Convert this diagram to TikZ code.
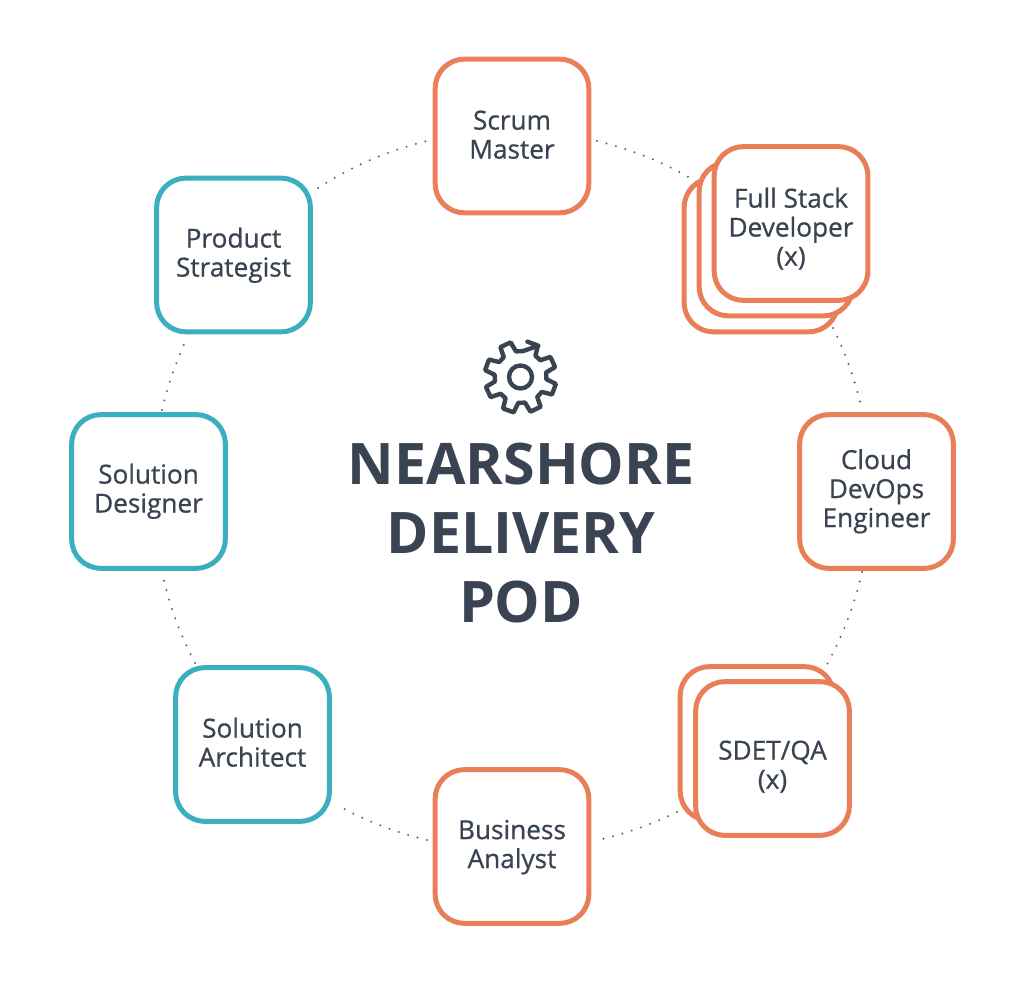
\documentclass[tikz,border=0pt]{standalone}
\usepackage{fontspec}
\usetikzlibrary{calc}
\setmainfont{Open Sans}
\newfontfamily\rolefont[FakeBold=0.7]{Open Sans}
\definecolor{podorange}{HTML}{E97F58}
\definecolor{podteal}{HTML}{3BAEBF}
\definecolor{podink}{HTML}{3A4352}
\definecolor{podgrey}{HTML}{5C6068}
\newcommand\rolelines[2]{\raisebox{#1}[0pt][0pt]{\begin{tabular}{@{}c@{}}#2\end{tabular}}}
\tikzset{
  rolebox/.style={draw, fill=white, line width=5pt, rounded corners=29pt,
    minimum width=153.6pt, minimum height=153.6pt, inner sep=0pt,
    text=podink, font=\rolefont\fontsize{26.2}{29}\selectfont},
  orangebox/.style={rolebox, draw=podorange},
  tealbox/.style={rolebox, draw=podteal},
  ringdots/.style={draw=podgrey, line width=2.2pt, line cap=round,
    dash pattern=on 0pt off 9.8pt, looseness=0.87},
  gearline/.style={draw=podink, line width=4.4pt, line join=round}
}
\begin{document}
\begin{tikzpicture}[x=1pt,y=-1pt]
\useasboundingbox (0,0) rectangle (1024,981);
% free ends of the dotted ring
\coordinate (a1) at (597,141);  \coordinate (b1) at (692,179);
\coordinate (a2) at (833,328);  \coordinate (b2) at (862,410);
\coordinate (a3) at (862,572);  \coordinate (b3) at (825,668);
\coordinate (a4) at (677,812);  \coordinate (b4) at (598,840);
\coordinate (a5) at (427,840);  \coordinate (b5) at (337,805);
\coordinate (a6) at (195,663);  \coordinate (b6) at (162,572);
\coordinate (a7) at (162,410);  \coordinate (b7) at (187,338);
\coordinate (a8) at (318,188);  \coordinate (b8) at (427,141);
\draw[ringdots] (a1) to[bend left=8.2] (b1);
\draw[ringdots] (a2) to[bend left=6.9] (b2);
\draw[ringdots] (a3) to[bend left=8.2] (b3);
\draw[ringdots] (a4) to[bend left=6.7] (b4);
\draw[ringdots] (a5) to[bend left=7.7] (b5);
\draw[ringdots] (a6) to[bend left=7.7] (b6);
\draw[ringdots] (a7) to[bend left=6.1] (b7);
\draw[ringdots] (a8) to[bend left=9.5] (b8);
% boxes
\node[orangebox] (scrum) at (512,136) {\rolelines{-8.5pt}{Scrum\\Master}};
\node[orangebox] (fsdback) at (761,255) {};
\node[orangebox] (fsdmid) at (776,239) {};
\node[orangebox] (fsd) at (791,223.5) {\rolelines{-13.5pt}{Full Stack\\Developer\\(x)}};
\node[orangebox] (cloud) at (876.5,491.5) {\rolelines{-7pt}{Cloud\\DevOps\\Engineer}};
\node[orangebox] (sdetback) at (757,743.5) {};
\node[orangebox] (sdet) at (772.5,758.5) {\rolelines{-16pt}{SDET/QA\\(x)}};
\node[orangebox] (ba) at (512,846.5) {\rolelines{-7.5pt}{Business\\Analyst}};
\node[tealbox] (sa) at (252.5,744.5) {\rolelines{-8pt}{Solution\\Architect}};
\node[tealbox] (sd) at (148.5,491.5) {\rolelines{-7pt}{Solution\\Designer}};
\node[tealbox] (ps) at (233.5,255) {\rolelines{-7.5pt}{Product\\Strategist}};
% gear
\coordinate (gc) at (520.5,377);
\draw[gearline] (gc) circle[radius=11.5];
\draw[gearline]
  ($(gc)+(60:36 and -36)$)
  \foreach \t in {70,25,-20,-65,-110,-155,-200,-245} {
    -- ($(gc)+(\t+9:36 and -36)$)
    -- ($(gc)+(\t-9:36 and -36)$)
    -- ($(gc)+(\t-15:26 and -26)$)
    -- ($(gc)+(\t-30:26 and -26)$)
  } -- cycle;
% title
\node (title) at (521,533) [align=center, text=podink,
  font=\fontsize{57.3}{69}\selectfont\bfseries] {NEARSHORE\\DELIVERY\\POD};
\end{tikzpicture}
\end{document}
